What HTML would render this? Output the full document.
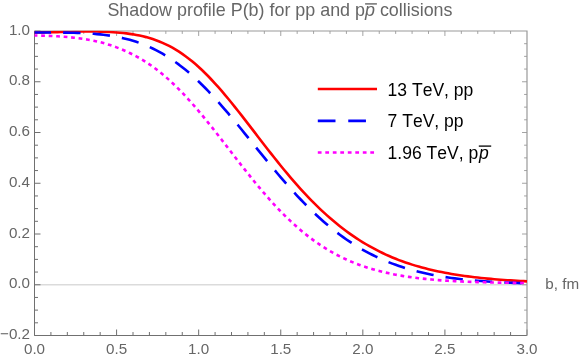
<!DOCTYPE html>
<html><head><meta charset="utf-8"><title>Shadow profile</title>
<style>
html,body{margin:0;padding:0;background:#fff;}
svg{display:block;will-change:transform;}
text{font-family:"Liberation Sans",Arial,Helvetica,sans-serif;font-kerning:none;}
.tl{font-size:15.2px;fill:#666;}
.ttl{font-size:17.9px;fill:#666;}
.lg{font-size:17.55px;fill:#000;}
.t{stroke:#707070;stroke-width:1;}
.t2{stroke:#999;stroke-width:0.9;}
.c{fill:none;stroke-linejoin:round;stroke-width:2.6;}
</style></head>
<body>
<svg width="581" height="362" viewBox="0 0 581 362">
<rect width="581" height="362" fill="#fff"/>
<line x1="34.5" y1="284.75" x2="527.0" y2="284.75" stroke="#dbdbdb" stroke-width="1.6"/>
<g>
<line class="t" x1="34.50" y1="335.50" x2="34.50" y2="329.50"/>
<line class="t" x1="50.92" y1="335.50" x2="50.92" y2="332.00"/>
<line class="t2" x1="50.92" y1="31.00" x2="50.92" y2="33.91"/>
<line class="t" x1="67.33" y1="335.50" x2="67.33" y2="332.00"/>
<line class="t2" x1="67.33" y1="31.00" x2="67.33" y2="33.91"/>
<line class="t" x1="83.75" y1="335.50" x2="83.75" y2="332.00"/>
<line class="t2" x1="83.75" y1="31.00" x2="83.75" y2="33.91"/>
<line class="t" x1="100.17" y1="335.50" x2="100.17" y2="332.00"/>
<line class="t2" x1="100.17" y1="31.00" x2="100.17" y2="33.91"/>
<line class="t" x1="116.58" y1="335.50" x2="116.58" y2="329.50"/>
<line class="t2" x1="116.58" y1="31.00" x2="116.58" y2="35.98"/>
<line class="t" x1="133.00" y1="335.50" x2="133.00" y2="332.00"/>
<line class="t2" x1="133.00" y1="31.00" x2="133.00" y2="33.91"/>
<line class="t" x1="149.42" y1="335.50" x2="149.42" y2="332.00"/>
<line class="t2" x1="149.42" y1="31.00" x2="149.42" y2="33.91"/>
<line class="t" x1="165.83" y1="335.50" x2="165.83" y2="332.00"/>
<line class="t2" x1="165.83" y1="31.00" x2="165.83" y2="33.91"/>
<line class="t" x1="182.25" y1="335.50" x2="182.25" y2="332.00"/>
<line class="t2" x1="182.25" y1="31.00" x2="182.25" y2="33.91"/>
<line class="t" x1="198.67" y1="335.50" x2="198.67" y2="329.50"/>
<line class="t2" x1="198.67" y1="31.00" x2="198.67" y2="35.98"/>
<line class="t" x1="215.08" y1="335.50" x2="215.08" y2="332.00"/>
<line class="t2" x1="215.08" y1="31.00" x2="215.08" y2="33.91"/>
<line class="t" x1="231.50" y1="335.50" x2="231.50" y2="332.00"/>
<line class="t2" x1="231.50" y1="31.00" x2="231.50" y2="33.91"/>
<line class="t" x1="247.92" y1="335.50" x2="247.92" y2="332.00"/>
<line class="t2" x1="247.92" y1="31.00" x2="247.92" y2="33.91"/>
<line class="t" x1="264.33" y1="335.50" x2="264.33" y2="332.00"/>
<line class="t2" x1="264.33" y1="31.00" x2="264.33" y2="33.91"/>
<line class="t" x1="280.75" y1="335.50" x2="280.75" y2="329.50"/>
<line class="t2" x1="280.75" y1="31.00" x2="280.75" y2="35.98"/>
<line class="t" x1="297.17" y1="335.50" x2="297.17" y2="332.00"/>
<line class="t2" x1="297.17" y1="31.00" x2="297.17" y2="33.91"/>
<line class="t" x1="313.58" y1="335.50" x2="313.58" y2="332.00"/>
<line class="t2" x1="313.58" y1="31.00" x2="313.58" y2="33.91"/>
<line class="t" x1="330.00" y1="335.50" x2="330.00" y2="332.00"/>
<line class="t2" x1="330.00" y1="31.00" x2="330.00" y2="33.91"/>
<line class="t" x1="346.42" y1="335.50" x2="346.42" y2="332.00"/>
<line class="t2" x1="346.42" y1="31.00" x2="346.42" y2="33.91"/>
<line class="t" x1="362.83" y1="335.50" x2="362.83" y2="329.50"/>
<line class="t2" x1="362.83" y1="31.00" x2="362.83" y2="35.98"/>
<line class="t" x1="379.25" y1="335.50" x2="379.25" y2="332.00"/>
<line class="t2" x1="379.25" y1="31.00" x2="379.25" y2="33.91"/>
<line class="t" x1="395.67" y1="335.50" x2="395.67" y2="332.00"/>
<line class="t2" x1="395.67" y1="31.00" x2="395.67" y2="33.91"/>
<line class="t" x1="412.08" y1="335.50" x2="412.08" y2="332.00"/>
<line class="t2" x1="412.08" y1="31.00" x2="412.08" y2="33.91"/>
<line class="t" x1="428.50" y1="335.50" x2="428.50" y2="332.00"/>
<line class="t2" x1="428.50" y1="31.00" x2="428.50" y2="33.91"/>
<line class="t" x1="444.92" y1="335.50" x2="444.92" y2="329.50"/>
<line class="t2" x1="444.92" y1="31.00" x2="444.92" y2="35.98"/>
<line class="t" x1="461.33" y1="335.50" x2="461.33" y2="332.00"/>
<line class="t2" x1="461.33" y1="31.00" x2="461.33" y2="33.91"/>
<line class="t" x1="477.75" y1="335.50" x2="477.75" y2="332.00"/>
<line class="t2" x1="477.75" y1="31.00" x2="477.75" y2="33.91"/>
<line class="t" x1="494.17" y1="335.50" x2="494.17" y2="332.00"/>
<line class="t2" x1="494.17" y1="31.00" x2="494.17" y2="33.91"/>
<line class="t" x1="510.58" y1="335.50" x2="510.58" y2="332.00"/>
<line class="t2" x1="510.58" y1="31.00" x2="510.58" y2="33.91"/>
<line class="t" x1="527.00" y1="335.50" x2="527.00" y2="329.50"/>
<line class="t" x1="34.50" y1="335.50" x2="40.50" y2="335.50"/>
<line class="t" x1="34.50" y1="322.81" x2="38.00" y2="322.81"/>
<line class="t2" x1="527.00" y1="322.81" x2="524.10" y2="322.81"/>
<line class="t" x1="34.50" y1="310.12" x2="38.00" y2="310.12"/>
<line class="t2" x1="527.00" y1="310.12" x2="524.10" y2="310.12"/>
<line class="t" x1="34.50" y1="297.44" x2="38.00" y2="297.44"/>
<line class="t2" x1="527.00" y1="297.44" x2="524.10" y2="297.44"/>
<line class="t" x1="34.50" y1="284.75" x2="40.50" y2="284.75"/>
<line class="t2" x1="527.00" y1="284.75" x2="522.02" y2="284.75"/>
<line class="t" x1="34.50" y1="272.06" x2="38.00" y2="272.06"/>
<line class="t2" x1="527.00" y1="272.06" x2="524.10" y2="272.06"/>
<line class="t" x1="34.50" y1="259.38" x2="38.00" y2="259.38"/>
<line class="t2" x1="527.00" y1="259.38" x2="524.10" y2="259.38"/>
<line class="t" x1="34.50" y1="246.69" x2="38.00" y2="246.69"/>
<line class="t2" x1="527.00" y1="246.69" x2="524.10" y2="246.69"/>
<line class="t" x1="34.50" y1="234.00" x2="40.50" y2="234.00"/>
<line class="t2" x1="527.00" y1="234.00" x2="522.02" y2="234.00"/>
<line class="t" x1="34.50" y1="221.31" x2="38.00" y2="221.31"/>
<line class="t2" x1="527.00" y1="221.31" x2="524.10" y2="221.31"/>
<line class="t" x1="34.50" y1="208.62" x2="38.00" y2="208.62"/>
<line class="t2" x1="527.00" y1="208.62" x2="524.10" y2="208.62"/>
<line class="t" x1="34.50" y1="195.94" x2="38.00" y2="195.94"/>
<line class="t2" x1="527.00" y1="195.94" x2="524.10" y2="195.94"/>
<line class="t" x1="34.50" y1="183.25" x2="40.50" y2="183.25"/>
<line class="t2" x1="527.00" y1="183.25" x2="522.02" y2="183.25"/>
<line class="t" x1="34.50" y1="170.56" x2="38.00" y2="170.56"/>
<line class="t2" x1="527.00" y1="170.56" x2="524.10" y2="170.56"/>
<line class="t" x1="34.50" y1="157.88" x2="38.00" y2="157.88"/>
<line class="t2" x1="527.00" y1="157.88" x2="524.10" y2="157.88"/>
<line class="t" x1="34.50" y1="145.19" x2="38.00" y2="145.19"/>
<line class="t2" x1="527.00" y1="145.19" x2="524.10" y2="145.19"/>
<line class="t" x1="34.50" y1="132.50" x2="40.50" y2="132.50"/>
<line class="t2" x1="527.00" y1="132.50" x2="522.02" y2="132.50"/>
<line class="t" x1="34.50" y1="119.81" x2="38.00" y2="119.81"/>
<line class="t2" x1="527.00" y1="119.81" x2="524.10" y2="119.81"/>
<line class="t" x1="34.50" y1="107.12" x2="38.00" y2="107.12"/>
<line class="t2" x1="527.00" y1="107.12" x2="524.10" y2="107.12"/>
<line class="t" x1="34.50" y1="94.44" x2="38.00" y2="94.44"/>
<line class="t2" x1="527.00" y1="94.44" x2="524.10" y2="94.44"/>
<line class="t" x1="34.50" y1="81.75" x2="40.50" y2="81.75"/>
<line class="t2" x1="527.00" y1="81.75" x2="522.02" y2="81.75"/>
<line class="t" x1="34.50" y1="69.06" x2="38.00" y2="69.06"/>
<line class="t2" x1="527.00" y1="69.06" x2="524.10" y2="69.06"/>
<line class="t" x1="34.50" y1="56.37" x2="38.00" y2="56.37"/>
<line class="t2" x1="527.00" y1="56.37" x2="524.10" y2="56.37"/>
<line class="t" x1="34.50" y1="43.69" x2="38.00" y2="43.69"/>
<line class="t2" x1="527.00" y1="43.69" x2="524.10" y2="43.69"/>
<line class="t" x1="34.50" y1="31.00" x2="40.50" y2="31.00"/>
</g>
<path d="M34.5 31.0 V335.5 H527.0" fill="none" stroke="#707070" stroke-width="1"/>
<path d="M34.5 31.0 H527.0 V335.5" fill="none" stroke="#999" stroke-width="1.2"/>
<clipPath id="cp"><rect x="34.2" y="30.85" width="493.3" height="304.65"/></clipPath>
<g clip-path="url(#cp)">
<path class="c" d="M34.50 32.46 L37.78 32.45 L41.07 32.42 L44.35 32.38 L47.63 32.32 L50.92 32.25 L54.20 32.17 L57.48 32.08 L60.77 31.99 L64.05 31.90 L67.33 31.81 L70.62 31.72 L73.90 31.65 L77.18 31.59 L80.47 31.54 L83.75 31.51 L87.03 31.49 L90.32 31.49 L93.60 31.52 L96.88 31.56 L100.17 31.63 L103.45 31.73 L106.73 31.85 L110.02 32.01 L113.30 32.20 L116.58 32.43 L119.87 32.71 L123.15 33.03 L126.43 33.41 L129.72 33.84 L133.00 34.34 L136.28 34.92 L139.57 35.57 L142.85 36.30 L146.13 37.12 L149.42 38.05 L152.70 39.07 L155.98 40.21 L159.27 41.46 L162.55 42.83 L165.83 44.33 L169.12 45.96 L172.40 47.73 L175.68 49.64 L178.97 51.69 L182.25 53.88 L185.53 56.21 L188.82 58.69 L192.10 61.31 L195.38 64.08 L198.67 66.98 L201.95 70.03 L205.23 73.22 L208.52 76.54 L211.80 79.98 L215.08 83.53 L218.37 87.19 L221.65 90.95 L224.93 94.80 L228.22 98.74 L231.50 102.75 L234.78 106.83 L238.07 110.96 L241.35 115.14 L244.63 119.36 L247.92 123.61 L251.20 127.87 L254.48 132.15 L257.77 136.43 L261.05 140.70 L264.33 144.95 L267.62 149.18 L270.90 153.37 L274.18 157.53 L277.47 161.65 L280.75 165.72 L284.03 169.73 L287.32 173.68 L290.60 177.57 L293.88 181.39 L297.17 185.13 L300.45 188.80 L303.73 192.39 L307.02 195.90 L310.30 199.33 L313.58 202.66 L316.87 205.92 L320.15 209.08 L323.43 212.15 L326.72 215.14 L330.00 218.03 L333.28 220.84 L336.57 223.57 L339.85 226.21 L343.13 228.76 L346.42 231.22 L349.70 233.60 L352.98 235.89 L356.27 238.10 L359.55 240.23 L362.83 242.28 L366.12 244.25 L369.40 246.15 L372.68 247.97 L375.97 249.72 L379.25 251.40 L382.53 253.01 L385.82 254.56 L389.10 256.04 L392.38 257.46 L395.67 258.82 L398.95 260.12 L402.23 261.34 L405.52 262.49 L408.80 263.58 L412.08 264.63 L415.37 265.63 L418.65 266.58 L421.93 267.49 L425.22 268.35 L428.50 269.18 L431.78 269.96 L435.07 270.71 L438.35 271.42 L441.63 272.09 L444.92 272.73 L448.20 273.34 L451.48 273.91 L454.77 274.46 L458.05 274.98 L461.33 275.47 L464.62 275.94 L467.90 276.38 L471.18 276.80 L474.47 277.20 L477.75 277.58 L481.03 277.94 L484.32 278.27 L487.60 278.59 L490.88 278.89 L494.17 279.18 L497.45 279.45 L500.73 279.71 L504.02 279.95 L507.30 280.18 L510.58 280.40 L513.87 280.61 L517.15 280.81 L520.43 280.99 L523.72 281.17 L527.00 281.33" stroke="#ff0000"/>
<path class="c" d="M34.50 32.46 L37.78 32.47 L41.07 32.48 L44.35 32.49 L47.63 32.50 L50.92 32.51 L54.20 32.53 L57.48 32.55 L60.77 32.58 L64.05 32.62 L67.33 32.67 L70.62 32.74 L73.90 32.82 L77.18 32.92 L80.47 33.04 L83.75 33.18 L87.03 33.36 L90.32 33.56 L93.60 33.80 L96.88 34.08 L100.17 34.40 L103.45 34.77 L106.73 35.19 L110.02 35.66 L113.30 36.18 L116.58 36.77 L119.87 37.43 L123.15 38.16 L126.43 38.96 L129.72 39.83 L133.00 40.79 L136.28 41.84 L139.57 42.98 L142.85 44.20 L146.13 45.53 L149.42 46.96 L152.70 48.48 L155.98 50.12 L159.27 51.86 L162.55 53.71 L165.83 55.68 L169.12 57.75 L172.40 59.94 L175.68 62.25 L178.97 64.67 L182.25 67.20 L185.53 69.85 L188.82 72.61 L192.10 75.48 L195.38 78.45 L198.67 81.53 L201.95 84.73 L205.23 88.03 L208.52 91.42 L211.80 94.90 L215.08 98.47 L218.37 102.11 L221.65 105.83 L224.93 109.61 L228.22 113.45 L231.50 117.35 L234.78 121.29 L238.07 125.27 L241.35 129.28 L244.63 133.32 L247.92 137.38 L251.20 141.45 L254.48 145.52 L257.77 149.59 L261.05 153.65 L264.33 157.67 L267.62 161.68 L270.90 165.65 L274.18 169.59 L277.47 173.49 L280.75 177.35 L284.03 181.15 L287.32 184.90 L290.60 188.59 L293.88 192.21 L297.17 195.77 L300.45 199.25 L303.73 202.66 L307.02 206.00 L310.30 209.25 L313.58 212.42 L316.87 215.51 L320.15 218.52 L323.43 221.44 L326.72 224.27 L330.00 227.02 L333.28 229.68 L336.57 232.26 L339.85 234.74 L343.13 237.14 L346.42 239.45 L349.70 241.68 L352.98 243.82 L356.27 245.89 L359.55 247.87 L362.83 249.77 L366.12 251.59 L369.40 253.34 L372.68 255.02 L375.97 256.62 L379.25 258.15 L382.53 259.61 L385.82 261.01 L389.10 262.34 L392.38 263.61 L395.67 264.82 L398.95 265.98 L402.23 267.07 L405.52 268.11 L408.80 269.10 L412.08 270.04 L415.37 270.93 L418.65 271.78 L421.93 272.58 L425.22 273.34 L428.50 274.06 L431.78 274.73 L435.07 275.35 L438.35 275.94 L441.63 276.49 L444.92 277.02 L448.20 277.51 L451.48 277.97 L454.77 278.40 L458.05 278.81 L461.33 279.20 L464.62 279.56 L467.90 279.90 L471.18 280.21 L474.47 280.51 L477.75 280.78 L481.03 281.04 L484.32 281.29 L487.60 281.51 L490.88 281.72 L494.17 281.92 L497.45 282.10 L500.73 282.27 L504.02 282.44 L507.30 282.59 L510.58 282.74 L513.87 282.87 L517.15 282.99 L520.43 283.11 L523.72 283.22 L527.00 283.32" stroke="#0000ff" stroke-dasharray="17.42 12.11" stroke-dashoffset="0.9"/>
<path class="c" d="M34.50 35.50 L37.78 35.54 L41.07 35.61 L44.35 35.70 L47.63 35.82 L50.92 35.95 L54.20 36.11 L57.48 36.30 L60.77 36.51 L64.05 36.75 L67.33 37.03 L70.62 37.34 L73.90 37.68 L77.18 38.08 L80.47 38.51 L83.75 38.99 L87.03 39.52 L90.32 40.11 L93.60 40.75 L96.88 41.45 L100.17 42.22 L103.45 43.10 L106.73 44.05 L110.02 45.07 L113.30 46.17 L116.58 47.36 L119.87 48.63 L123.15 49.99 L126.43 51.45 L129.72 53.01 L133.00 54.62 L136.28 56.34 L139.57 58.16 L142.85 60.10 L146.13 62.15 L149.42 64.32 L152.70 66.62 L155.98 69.03 L159.27 71.57 L162.55 74.23 L165.83 77.01 L169.12 79.92 L172.40 82.94 L175.68 86.09 L178.97 89.34 L182.25 92.71 L185.53 96.19 L188.82 99.77 L192.10 103.45 L195.38 107.21 L198.67 111.07 L201.95 115.00 L205.23 119.00 L208.52 123.06 L211.80 127.17 L215.08 131.33 L218.37 135.53 L221.65 139.76 L224.93 144.01 L228.22 148.26 L231.50 152.52 L234.78 156.78 L238.07 161.01 L241.35 165.23 L244.63 169.41 L247.92 173.56 L251.20 177.65 L254.48 181.70 L257.77 185.68 L261.05 189.60 L264.33 193.45 L267.62 197.23 L270.90 200.92 L274.18 204.52 L277.47 208.04 L280.75 211.47 L284.03 214.80 L287.32 218.04 L290.60 221.18 L293.88 224.22 L297.17 227.16 L300.45 230.00 L303.73 232.73 L307.02 235.37 L310.30 237.91 L313.58 240.35 L316.87 242.69 L320.15 244.93 L323.43 247.08 L326.72 249.13 L330.00 251.10 L333.28 252.96 L336.57 254.73 L339.85 256.42 L343.13 258.03 L346.42 259.55 L349.70 261.00 L352.98 262.38 L356.27 263.68 L359.55 264.92 L362.83 266.09 L366.12 267.19 L369.40 268.23 L372.68 269.22 L375.97 270.15 L379.25 271.02 L382.53 271.85 L385.82 272.62 L389.10 273.35 L392.38 274.04 L395.67 274.68 L398.95 275.28 L402.23 275.85 L405.52 276.38 L408.80 276.87 L412.08 277.34 L415.37 277.77 L418.65 278.18 L421.93 278.56 L425.22 278.91 L428.50 279.24 L431.78 279.55 L435.07 279.83 L438.35 280.10 L441.63 280.35 L444.92 280.58 L448.20 280.79 L451.48 280.99 L454.77 281.17 L458.05 281.34 L461.33 281.50 L464.62 281.64 L467.90 281.78 L471.18 281.90 L474.47 282.02 L477.75 282.12 L481.03 282.22 L484.32 282.31 L487.60 282.39 L490.88 282.46 L494.17 282.53 L497.45 282.60 L500.73 282.66 L504.02 282.72 L507.30 282.78 L510.58 282.84 L513.87 282.89 L517.15 282.94 L520.43 282.99 L523.72 283.03 L527.00 283.07" stroke="#ff00ff" stroke-dasharray="3.75 3.75" stroke-dashoffset="0.8"/>
</g>
<g>
<text class="tl" x="34.50" y="353.6" text-anchor="middle">0.0</text>
<text class="tl" x="116.58" y="353.6" text-anchor="middle">0.5</text>
<text class="tl" x="198.67" y="353.6" text-anchor="middle">1.0</text>
<text class="tl" x="280.75" y="353.6" text-anchor="middle">1.5</text>
<text class="tl" x="362.83" y="353.6" text-anchor="middle">2.0</text>
<text class="tl" x="444.92" y="353.6" text-anchor="middle">2.5</text>
<text class="tl" x="527.00" y="353.6" text-anchor="middle">3.0</text>
<text class="tl" x="30" y="339.10" text-anchor="end">−0.2</text>
<text class="tl" x="30" y="288.35" text-anchor="end">0.0</text>
<text class="tl" x="30" y="237.60" text-anchor="end">0.2</text>
<text class="tl" x="30" y="186.85" text-anchor="end">0.4</text>
<text class="tl" x="30" y="136.10" text-anchor="end">0.6</text>
<text class="tl" x="30" y="85.35" text-anchor="end">0.8</text>
<text class="tl" x="30" y="34.60" text-anchor="end">1.0</text>
</g>
<text class="ttl" x="107.4" y="16.4">Shadow profile P(b) for pp and p<tspan font-style="italic">p</tspan> collisions</text>
<line x1="365.1" y1="3.9" x2="376.9" y2="3.9" stroke="#666" stroke-width="1.4"/>
<text class="tl" x="545.3" y="288.7">b, fm</text>
<line x1="317.8" y1="89" x2="377" y2="89" stroke="#ff0000" stroke-width="2.6"/>
<line x1="317.8" y1="120.9" x2="377" y2="120.9" stroke="#0000ff" stroke-width="2.6" stroke-dasharray="17.7 12.75"/>
<line x1="317.8" y1="152.45" x2="377" y2="152.45" stroke="#ff00ff" stroke-width="2.6" stroke-dasharray="3.75 3.75"/>
<text class="lg" x="387.6" y="95.9">13 TeV, pp</text>
<text class="lg" x="387.6" y="127.3">7 TeV, pp</text>
<text class="lg" x="387.6" y="158.8">1.96 TeV, p<tspan font-style="italic" dx="0.7">p</tspan></text>
<line x1="478.8" y1="146.1" x2="491.2" y2="146.1" stroke="#000" stroke-width="1.3"/>
</svg>
</body></html>
